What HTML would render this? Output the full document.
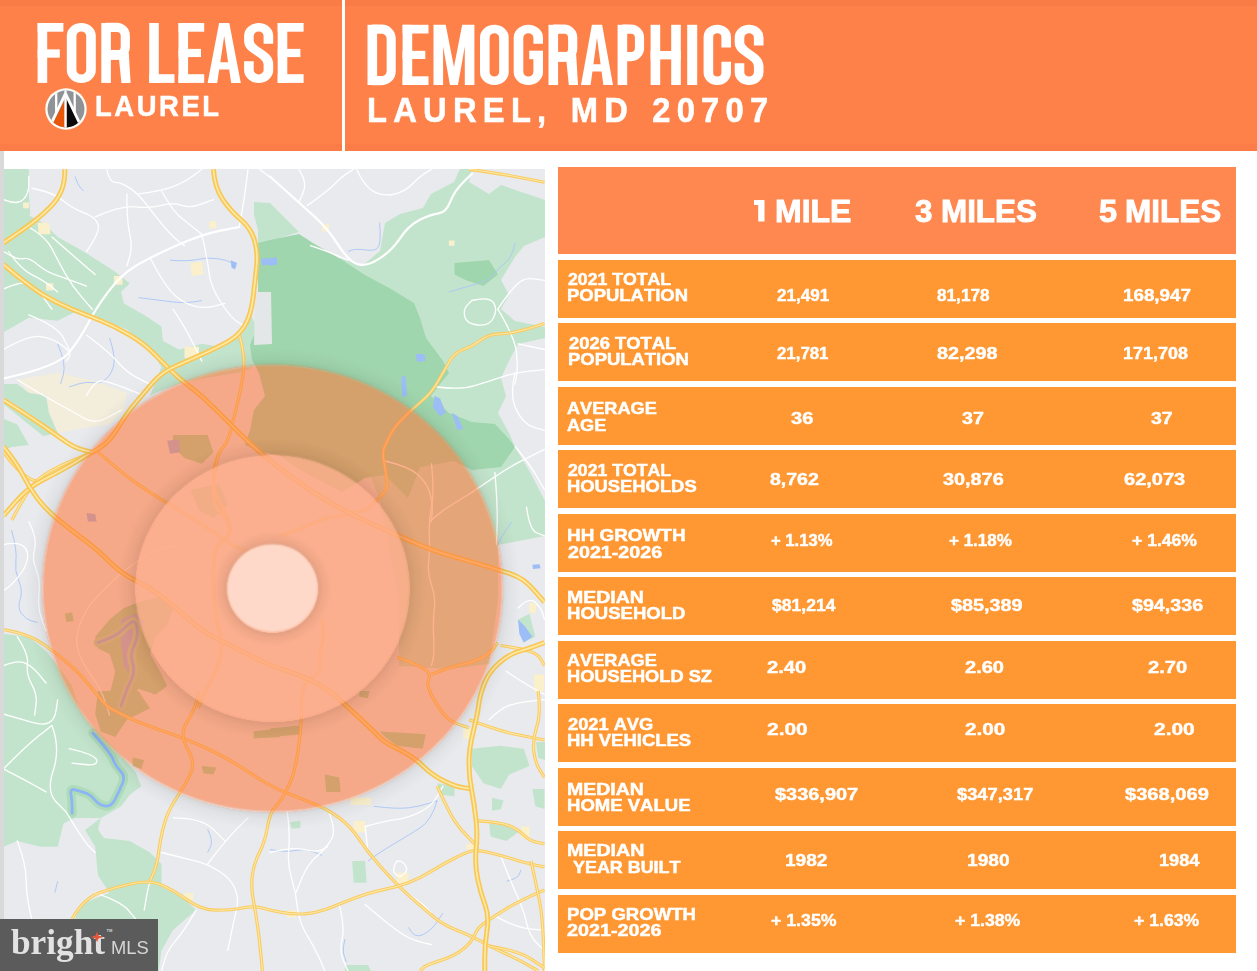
<!DOCTYPE html>
<html><head><meta charset="utf-8"><title>Demographics</title>
<style>
html,body{margin:0;padding:0}
body{width:1257px;height:971px;position:relative;overflow:hidden;background:#fff;font-family:"Liberation Sans",sans-serif}
.banner{position:absolute;left:0;top:0;width:1257px;height:150.8px;background:#ff814a}
.btop{position:absolute;left:0;top:0;width:1257px;height:6px;background:#f97b45}
.bbot{position:absolute;left:0;top:144.4px;width:1257px;height:6.4px;background:#fb7c47}
.divider{position:absolute;left:342px;top:0;width:3.4px;height:150.8px;background:#fff}
.lstripe{position:absolute;left:0;top:150.6px;width:4px;height:830px;background:#d9d9d9}
.map{position:absolute;left:0;top:0}
.hd{position:absolute;background:#ff8750}
.rw{position:absolute;background:#ff9833}
.t{position:absolute;white-space:nowrap;line-height:1;transform-origin:0 0;font-weight:700;color:#fff;font-kerning:none}
.big{-webkit-text-stroke:2.2px #fff}
.logo{position:absolute}
.wm{position:absolute;left:0;top:918.7px;width:158px;height:53px;background:#5a5b5a}
</style></head><body>
<div class="banner"></div><div class="btop"></div><div class="bbot"></div><div class="divider"></div><div class="lstripe"></div>
<svg class="map" width="1257" height="971" viewBox="0 0 1257 971">
<defs><clipPath id="mc"><rect x="4" y="169" width="541" height="802"/></clipPath><filter id="sh" x="-20%" y="-20%" width="140%" height="140%"><feGaussianBlur stdDeviation="7"/></filter><filter id="soft" x="-5%" y="-5%" width="110%" height="110%"><feGaussianBlur stdDeviation="0.9"/></filter></defs>
<g clip-path="url(#mc)">
<rect x="0" y="160" width="560" height="820" fill="#e8eaed"/>
<path d="M17.3,379.8 L57.7,372.6 L95.2,381.3 L126.9,392.8 L124.0,410.0 L109.6,424.5 L86.5,427.4 L57.7,433.0 L49.0,413.0 L46.1,395.7 L28.8,392.8Z" fill="#f3eddc"/>
<path d="M340.0,258.0 L362.0,266.0 L380.0,251.0 L385.0,223.0 L400.0,214.0 L423.0,208.0 L431.0,194.0 L454.0,182.0 L460.0,169.0 L472.0,169.0 L469.0,182.0 L489.0,194.0 L501.0,185.0 L545.0,200.0 L545.0,237.0 L524.0,246.0 L515.0,257.0 L501.0,280.0 L509.0,295.0 L501.0,309.0 L515.0,321.0 L545.0,327.0 L545.0,338.0 L518.0,344.0 L509.0,361.0 L501.0,378.0 L506.0,396.0 L498.0,413.0 L509.0,433.0 L515.0,447.0 L530.0,472.0 L545.0,501.0 L545.0,536.0 L498.0,545.0 L498.0,600.0 L489.0,664.0 L450.0,669.0 L399.0,666.0 L399.0,600.0 L380.0,500.0 L340.0,400.0Z" fill="#c3e4cc"/>
<path d="M254.0,202.0 L270.0,203.0 L299.0,232.0 L270.0,241.0 L258.0,244.0 L258.0,230.0 L254.0,215.0Z" fill="#c3e4cc"/>
<path d="M3.5,169.0 L28.8,169.0 L28.8,194.0 L30.3,214.0 L17.3,231.0 L3.5,242.0Z" fill="#c3e4cc"/>
<path d="M3.5,240.0 L17.0,231.0 L28.0,215.0 L43.3,222.7 L57.7,237.0 L83.6,251.5 L115.3,271.7 L129.8,283.2 L121.0,291.9 L124.0,303.4 L144.2,315.0 L161.5,326.5 L163.0,340.9 L178.8,349.5 L201.8,343.8 L219.0,346.7 L239.3,335.0 L250.9,315.0 L258.0,330.0 L253.7,366.9 L239.3,372.6 L201.8,378.4 L178.8,384.0 L155.7,392.8 L150.0,395.7 L161.5,366.9 L150.0,349.5 L126.9,329.4 L95.2,316.0 L75.0,312.0 L57.7,320.7 L28.8,317.8 L3.5,332.2Z" fill="#c3e4cc"/>
<path d="M3.5,384.0 L17.3,384.0 L28.8,392.8 L46.1,395.7 L49.0,413.0 L57.7,433.0 L43.3,436.0 L28.8,424.5 L3.5,404.0Z" fill="#c3e4cc"/>
<path d="M3.5,418.8 L17.3,424.5 L28.8,445.0 L12.0,447.0 L3.5,450.0Z" fill="#c3e4cc"/>
<path d="M3.5,634.0 L28.8,636.8 L46.1,651.3 L57.7,665.7 L72.1,685.9 L77.9,705.0 L86.5,719.8 L115.3,748.7 L135.5,771.7 L141.3,786.2 L129.8,794.8 L121.1,806.3 L100.9,817.9 L75.0,817.9 L63.4,823.6 L57.7,846.7 L40.4,846.7 L17.3,841.0 L3.5,846.7Z" fill="#c3e4cc"/>
<path d="M100.9,817.9 L98.0,829.4 L103.8,838.0 L129.8,841.0 L150.0,852.5 L161.5,864.0 L161.5,887.0 L184.5,898.6 L196.0,910.0 L173.0,930.0 L161.5,950.5 L158.6,971.0 L75.0,971.0 L75.0,918.8 L80.7,904.4 L95.2,898.6 L109.6,892.8 L98.0,875.5 L95.2,846.7 L85.0,830.0Z" fill="#c3e4cc"/>
<path d="M471.9,748.7 L500.7,745.8 L523.8,748.7 L529.5,766.0 L509.3,774.6 L500.7,789.0 L483.4,783.3 L471.9,766.0Z" fill="#c3e4cc"/>
<path d="M492.0,797.7 L503.6,800.6 L500.7,809.2 L492.0,810.7Z" fill="#c3e4cc"/>
<path d="M489.2,823.6 L512.2,826.5 L518.0,832.3 L506.4,841.0 L490.6,836.6Z" fill="#c3e4cc"/>
<path d="M532.4,789.0 L544.5,789.0 L544.5,809.0 L535.3,806.3Z" fill="#c3e4cc"/>
<path d="M352.2,861.0 L365.2,861.0 L366.6,882.8 L353.6,882.8Z" fill="#c3e4cc"/>
<path d="M290.2,822.2 L300.3,820.8 L300.3,828.0 L291.6,828.8Z" fill="#c3e4cc"/>
<path d="M437.2,783.3 L454.5,786.2 L454.5,796.2 L440.1,794.8Z" fill="#c3e4cc"/>
<path d="M345.0,965.0 L368.0,965.0 L371.0,971.0 L345.0,971.0Z" fill="#c3e4cc"/>
<path d="M518.0,619.5 L529.5,613.8 L535.3,636.8 L523.7,642.6Z" fill="#c3e4cc"/>
<path d="M536.0,742.0 L545.0,742.0 L545.0,760.0 L538.0,758.0Z" fill="#c3e4cc"/>
<path d="M258.0,243.0 L270.0,240.0 L299.0,234.0 L313.0,243.0 L342.0,260.0 L365.0,275.0 L391.0,289.0 L414.0,303.0 L420.0,318.0 L426.0,338.0 L443.0,361.0 L449.0,373.0 L440.0,384.0 L431.0,396.0 L449.0,413.0 L472.0,422.0 L495.0,424.0 L509.0,439.0 L515.0,447.0 L501.0,467.0 L472.0,470.0 L454.0,461.0 L420.0,467.0 L408.0,498.0 L385.0,475.0 L365.0,478.0 L342.0,492.0 L300.0,470.0 L280.0,456.0 L262.0,452.0 L245.0,445.0 L250.0,430.0 L254.0,410.0 L265.0,396.0 L259.0,373.0 L252.0,360.0 L250.0,345.0 L256.0,330.0 L258.0,300.0Z" fill="#a0d6ad"/>
<path d="M454.5,263.0 L489.0,260.0 L498.0,274.6 L483.4,286.0 L466.0,280.3 L454.5,274.6Z" fill="#a0d6ad"/>
<path d="M95.2,636.8 L109.6,619.5 L124.0,608.0 L138.4,602.2 L161.5,596.5 L173.0,608.0 L167.2,625.3 L155.7,636.8 L149.9,654.1 L161.5,674.3 L167.2,685.9 L155.7,694.5 L138.4,688.7 L126.9,703.2 L115.3,708.9 L109.6,694.5 L115.3,671.4 L109.6,654.1 L98.0,648.4Z" fill="#a0d6ad"/>
<path d="M98.0,691.0 L138.4,691.0 L149.9,708.3 L126.9,719.8 L115.3,737.1 L100.9,731.4 L95.2,714.1Z" fill="#a0d6ad"/>
<path d="M132.6,757.3 L144.2,760.2 L141.3,768.9 L132.6,766.0Z" fill="#a0d6ad"/>
<path d="M173.0,435.0 L207.6,435.0 L213.4,452.3 L201.8,463.8 L184.5,458.1 L173.0,446.5Z" fill="#a0d6ad"/>
<path d="M190.3,489.8 L219.1,484.0 L227.8,504.2 L213.4,518.6 L199.0,510.0Z" fill="#a0d6ad"/>
<path d="M64.9,613.8 L72.1,612.3 L73.5,621.0 L66.3,621.9Z" fill="#a0d6ad"/>
<path d="M270.0,728.5 L298.8,725.6 L301.7,734.3 L270.0,737.1Z" fill="#a0d6ad"/>
<path d="M379.6,731.4 L425.7,734.3 L422.8,748.7 L396.9,745.8 L385.3,737.1Z" fill="#a0d6ad"/>
<path d="M324.8,774.6 L339.2,777.5 L340.6,791.9 L326.2,791.9Z" fill="#a0d6ad"/>
<path d="M359.4,691.0 L369.5,691.0 L368.0,698.2 L359.4,696.8Z" fill="#a0d6ad"/>
<path d="M253.7,731.4 L280.0,728.5 L280.0,737.1 L253.7,738.6Z" fill="#a0d6ad"/>
<path d="M201.8,766.0 L216.3,767.4 L213.4,774.6 L203.3,773.2Z" fill="#a0d6ad"/>
<path d="M167.2,440.8 L178.8,439.3 L180.2,452.3 L170.1,453.7Z" fill="#9fb8f5"/>
<path d="M86.5,512.9 L95.2,514.3 L96.6,521.5 L87.9,521.5Z" fill="#9fb8f5"/>
<path d="M121.1,619.5 L135.5,613.8 L144.2,622.4 L135.5,636.8 L129.8,654.1 L138.4,671.4 L132.6,680.1 L124.0,665.7 L121.1,642.6Z" fill="#9fb8f5"/>
<path d="M255.0,292.0 L271.0,292.0 L272.0,344.0 L254.0,345.0Z" fill="#e3e7e8"/>
<path d="M92.7,733.0 Q111.2,753.6 113.2,759.8 Q115.3,765.9 120.4,771.0 Q125.6,776.2 122.5,783.4 Q119.5,790.6 115.3,798.9 Q111.2,807.1 105.1,806.0 Q98.9,805.0 94.8,799.9 Q90.6,794.7 84.4,792.7 Q78.3,790.6 74.2,789.6 Q70.0,788.6 71.0,794.8 Q72.1,800.9 72.1,807.1 L72.1,813.3" fill="none" stroke="#aedbb9" stroke-width="9" stroke-linecap="round" stroke-linejoin="round"/>
<path d="M98.0,642.6 Q115.3,636.8 121.1,631.1 Q126.9,625.3 131.2,622.4 Q135.5,619.5 137.0,628.2 Q138.4,636.8 134.1,645.5 Q129.8,654.1 132.6,662.8 Q135.5,671.4 131.2,680.1 Q126.9,688.7 124.0,697.4 L121.1,706.0" fill="none" stroke="#aedbb9" stroke-width="9" stroke-linecap="round" stroke-linejoin="round"/>
<path d="M92.7,733.0 Q111.2,753.6 113.2,759.8 Q115.3,765.9 120.4,771.0 Q125.6,776.2 122.5,783.4 Q119.5,790.6 115.3,798.9 Q111.2,807.1 105.1,806.0 Q98.9,805.0 94.8,799.9 Q90.6,794.7 84.4,792.7 Q78.3,790.6 74.2,789.6 Q70.0,788.6 71.0,794.8 Q72.1,800.9 72.1,807.1 L72.1,813.3" fill="none" stroke="#8db5f6" stroke-width="2.8" stroke-linecap="round"/>
<path d="M98.0,642.6 Q115.3,636.8 121.1,631.1 Q126.9,625.3 131.2,622.4 Q135.5,619.5 137.0,628.2 Q138.4,636.8 134.1,645.5 Q129.8,654.1 132.6,662.8 Q135.5,671.4 131.2,680.1 Q126.9,688.7 124.0,697.4 L121.1,706.0" fill="none" stroke="#8db5f6" stroke-width="2.8" stroke-linecap="round"/>
<path d="M190.3,263.0 L201.8,261.6 L203.3,274.6 L191.8,276.0Z" fill="#fbf0cc"/>
<path d="M37.5,222.7 L49.0,222.7 L50.5,234.2 L38.9,234.2Z" fill="#fbf0cc"/>
<path d="M46.1,283.2 L53.3,283.2 L53.3,290.4 L46.1,290.4Z" fill="#fbf0cc"/>
<path d="M184.5,346.7 L199.0,346.7 L199.0,358.2 L184.5,358.2Z" fill="#fbf0cc"/>
<path d="M113.9,276.0 L122.5,276.0 L122.5,284.7 L113.9,284.7Z" fill="#fbf0cc"/>
<path d="M23.1,202.5 L28.8,202.5 L28.8,208.3 L23.1,208.3Z" fill="#fbf0cc"/>
<path d="M209.1,221.2 L216.3,221.2 L216.3,228.4 L209.1,228.4Z" fill="#fbf0cc"/>
<path d="M321.9,224.1 L329.1,224.1 L329.1,231.3 L321.9,231.3Z" fill="#fbf0cc"/>
<path d="M448.8,240.5 L454.5,240.5 L454.5,245.7 L448.8,245.7Z" fill="#fbf0cc"/>
<path d="M350.7,797.7 L370.9,797.7 L370.9,804.9 L350.7,804.9Z" fill="#fbf0cc"/>
<path d="M353.6,820.8 L365.2,820.8 L365.2,832.3 L353.6,832.3Z" fill="#fbf0cc"/>
<path d="M396.9,872.7 L408.4,872.7 L408.4,882.8 L396.9,882.8Z" fill="#fbf0cc"/>
<path d="M463.2,728.5 L474.7,728.5 L474.7,738.6 L463.2,738.6Z" fill="#fbf0cc"/>
<path d="M520.9,826.5 L529.5,826.5 L529.5,838.1 L520.9,838.1Z" fill="#fbf0cc"/>
<path d="M466.1,843.8 L474.7,843.8 L474.7,849.6 L466.1,849.6Z" fill="#fbf0cc"/>
<path d="M287.3,910.1 L296.0,910.1 L296.0,917.4 L287.3,917.4Z" fill="#fbf0cc"/>
<path d="M184.5,892.8 L193.2,892.8 L193.2,900.1 L184.5,900.1Z" fill="#fbf0cc"/>
<path d="M529.5,602.2 L536.7,603.7 L535.3,613.8 L528.9,612.3Z" fill="#fbf0cc"/>
<path d="M533.8,674.3 L543.9,674.3 L543.9,691.6 L533.8,691.6Z" fill="#fbf0cc"/>
<path d="M230.7,260.2 L237.0,263.0 L235.0,269.4 L231.5,267.4Z" fill="#9cbdf6"/>
<path d="M261.0,258.7 L276.8,257.8 L277.4,264.5 L261.8,265.3Z" fill="#9cbdf6"/>
<path d="M270.0,258.7 L275.8,257.3 L276.3,264.5 L270.0,265.9Z" fill="#9cbdf6"/>
<path d="M415.6,353.9 L424.3,353.9 L425.7,361.1 L417.1,361.7Z" fill="#9cbdf6"/>
<path d="M401.2,376.9 L405.5,376.1 L407.0,395.7 L402.1,397.1Z" fill="#9cbdf6"/>
<path d="M434.4,395.7 L440.1,398.6 L445.9,413.0 L440.1,415.9 L432.9,407.2Z" fill="#9cbdf6"/>
<path d="M451.7,413.0 L457.4,415.9 L463.2,428.8 L457.4,430.3Z" fill="#9cbdf6"/>
<path d="M518.0,619.5 L525.2,626.8 L532.4,636.8 L523.7,642.6 L519.4,634.0Z" fill="#9cbdf6"/>
<path d="M532.4,564.8 L539.6,564.2 L540.5,568.2 L533.0,569.1Z" fill="#9cbdf6"/>
<path d="M170.1,260.2 Q187.4,261.6 197.5,259.4 Q207.6,257.3 217.7,258.7 Q227.8,260.2 232.1,263.0 L236.4,265.9" fill="none" stroke="#a9c5f7" stroke-width="0.9"/>
<path d="M138.4,297.6 Q161.5,300.5 173.0,302.0 Q184.5,303.4 193.2,302.0 L201.8,300.5" fill="none" stroke="#a9c5f7" stroke-width="0.9"/>
<path d="M109.6,338.0 Q115.3,355.3 113.9,364.0 Q112.5,372.6 106.7,378.4 Q100.9,384.1 93.7,382.7 Q86.5,381.3 77.9,384.1 L69.2,387.0" fill="none" stroke="#a9c5f7" stroke-width="0.9"/>
<path d="M75.0,176.5 Q77.9,185.2 80.7,188.1 L83.6,191.0" fill="none" stroke="#a9c5f7" stroke-width="0.9"/>
<path d="M57.7,343.8 Q66.3,364.0 63.4,374.1 L60.6,384.1" fill="none" stroke="#a9c5f7" stroke-width="0.9"/>
<path d="M11.5,530.2 Q17.3,550.3 15.9,560.4 Q14.4,570.5 18.7,580.6 Q23.1,590.7 20.2,599.4 Q17.3,608.0 21.6,613.8 Q26.0,619.5 31.7,621.0 L37.5,622.4" fill="none" stroke="#a9c5f7" stroke-width="0.9"/>
<path d="M373.8,806.3 Q396.9,809.2 408.4,807.8 Q419.9,806.3 428.6,803.5 L437.2,800.6" fill="none" stroke="#a9c5f7" stroke-width="0.9"/>
<path d="M437.2,800.6 Q431.5,820.8 419.9,828.0 Q408.4,835.2 401.2,839.5 Q394.0,843.8 386.8,848.2 Q379.6,852.5 373.8,856.8 L368.0,861.1" fill="none" stroke="#a9c5f7" stroke-width="0.9"/>
<path d="M270.0,849.6 Q287.3,852.5 296.0,850.3 Q304.6,848.2 313.3,851.8 L321.9,855.4" fill="none" stroke="#a9c5f7" stroke-width="0.9"/>
<path d="M345.0,939.0 Q342.1,950.5 344.3,956.3 L346.4,962.0" fill="none" stroke="#a9c5f7" stroke-width="0.9"/>
<path d="M408.4,927.4 Q414.2,939.0 422.8,934.7 Q431.5,930.3 437.2,921.7 L443.0,913.0" fill="none" stroke="#a9c5f7" stroke-width="0.9"/>
<path d="M506.4,881.3 Q518.0,878.4 519.4,874.1 L520.9,869.8" fill="none" stroke="#a9c5f7" stroke-width="0.9"/>
<path d="M207.6,829.4 Q213.4,840.9 210.5,846.7 L207.6,852.5" fill="none" stroke="#a9c5f7" stroke-width="0.9"/>
<path d="M57.7,881.3 L54.8,892.8" fill="none" stroke="#a9c5f7" stroke-width="0.9"/>
<path d="M379.6,222.7 Q381.0,240.0 378.9,245.7 Q376.7,251.5 366.6,250.1 Q356.5,248.6 352.2,250.1 L347.9,251.5" fill="none" stroke="#a9c5f7" stroke-width="0.9"/>
<path d="M515.1,242.9 Q512.2,257.3 505.0,263.0 Q497.8,268.8 493.5,274.6 Q489.1,280.3 479.1,283.2 Q469.0,286.1 458.9,289.0 L448.8,291.9" fill="none" stroke="#a9c5f7" stroke-width="0.9"/>
<path d="M512.2,521.5 Q503.6,533.0 500.7,538.8 L497.8,544.6" fill="none" stroke="#a9c5f7" stroke-width="0.9"/>
<path d="M3.5,378.4 Q57.7,366.9 69.2,352.4 Q80.7,338.0 88.0,323.6 Q95.2,309.2 108.2,291.9 Q121.1,274.6 135.6,266.0 Q150.0,257.3 175.9,245.8 Q201.8,234.2 220.6,230.6 L239.3,227.0" fill="none" stroke="#ffffff" stroke-width="2.2" stroke-linecap="round"/>
<path d="M270.0,176.5 Q298.8,202.5 313.2,215.4 Q327.7,228.4 337.8,244.3 Q347.9,260.2 356.5,263.8 Q365.2,267.4 378.1,259.4 Q391.1,251.5 399.8,238.6 Q408.4,225.6 419.9,219.8 Q431.5,214.0 438.7,213.3 Q445.9,212.6 450.2,201.8 Q454.5,191.0 463.2,182.3 L471.9,173.7" fill="none" stroke="#ffffff" stroke-width="2.2" stroke-linecap="round"/>
<path d="M106.7,169.3 Q109.6,182.3 115.3,182.3 Q121.1,182.3 129.8,188.1 Q138.4,193.8 147.1,205.4 Q155.7,216.9 164.4,227.0 Q173.0,237.1 178.8,241.4 L184.5,245.7" fill="none" stroke="#ffffff" stroke-width="1.3" stroke-linecap="round"/>
<path d="M95.2,216.9 Q121.1,205.4 135.5,206.8 Q149.9,208.3 161.5,205.4 Q173.0,202.5 181.7,205.4 Q190.3,208.3 201.8,203.9 L213.4,199.6" fill="none" stroke="#ffffff" stroke-width="1.3" stroke-linecap="round"/>
<path d="M86.5,251.5 Q100.9,231.3 98.0,224.1 Q95.2,216.9 83.6,212.6 Q72.1,208.3 63.4,201.0 Q54.8,193.8 43.3,191.0 L31.7,188.1" fill="none" stroke="#ffffff" stroke-width="1.3" stroke-linecap="round"/>
<path d="M126.9,193.8 Q126.9,222.7 129.8,234.2 Q132.6,245.7 129.8,255.8 L126.9,265.9" fill="none" stroke="#ffffff" stroke-width="1.3" stroke-linecap="round"/>
<path d="M201.8,234.2 Q207.6,260.2 209.1,273.1 Q210.5,286.1 220.6,302.0 Q230.7,317.8 237.9,322.2 L245.1,326.5" fill="none" stroke="#ffffff" stroke-width="1.3" stroke-linecap="round"/>
<path d="M161.5,191.0 Q173.0,211.1 180.2,216.9 Q187.4,222.7 194.6,228.4 L201.8,234.2" fill="none" stroke="#ffffff" stroke-width="1.3" stroke-linecap="round"/>
<path d="M3.5,349.5 Q28.8,335.1 40.4,336.6 Q51.9,338.0 62.0,345.2 Q72.1,352.4 69.2,356.8 L66.3,361.1" fill="none" stroke="#ffffff" stroke-width="1.3" stroke-linecap="round"/>
<path d="M86.5,335.1 Q109.6,352.4 118.2,362.5 Q126.9,372.6 138.4,378.4 L149.9,384.1" fill="none" stroke="#ffffff" stroke-width="1.3" stroke-linecap="round"/>
<path d="M3.5,289.0 Q23.1,280.3 30.3,284.7 Q37.5,289.0 44.7,299.1 L51.9,309.2" fill="none" stroke="#ffffff" stroke-width="1.3" stroke-linecap="round"/>
<path d="M28.8,227.0 Q46.1,237.1 51.9,248.6 Q57.7,260.2 64.9,273.1 Q72.1,286.1 82.2,297.6 L92.3,309.2" fill="none" stroke="#ffffff" stroke-width="1.3" stroke-linecap="round"/>
<path d="M173.0,309.2 Q184.5,326.5 190.3,338.0 Q196.1,349.5 199.0,355.3 L201.8,361.1" fill="none" stroke="#ffffff" stroke-width="1.3" stroke-linecap="round"/>
<path d="M248.0,169.3 Q245.1,193.8 242.2,210.4 L239.3,227.0" fill="none" stroke="#ffffff" stroke-width="1.3" stroke-linecap="round"/>
<path d="M259.5,169.3 L276.8,182.3" fill="none" stroke="#ffffff" stroke-width="1.3" stroke-linecap="round"/>
<path d="M28.8,314.9 Q57.7,326.5 63.4,338.0 L69.2,349.5" fill="none" stroke="#ffffff" stroke-width="1.3" stroke-linecap="round"/>
<path d="M17.3,379.8 Q43.3,395.7 59.1,404.3 Q75.0,413.0 85.1,418.7 Q95.2,424.5 108.1,417.3 L121.1,410.1" fill="none" stroke="#ffffff" stroke-width="1.3" stroke-linecap="round"/>
<path d="M3.5,251.5 Q17.3,260.2 23.1,258.7 Q28.8,257.3 37.5,264.5 Q46.1,271.7 54.8,274.6 Q63.4,277.5 75.0,281.8 L86.5,286.1" fill="none" stroke="#ffffff" stroke-width="1.3" stroke-linecap="round"/>
<path d="M51.9,237.1 Q75.0,257.3 85.1,265.9 L95.2,274.6" fill="none" stroke="#ffffff" stroke-width="1.3" stroke-linecap="round"/>
<path d="M86.5,395.7 Q95.2,378.4 105.2,381.3 Q115.3,384.1 129.8,389.9 L144.2,395.7" fill="none" stroke="#ffffff" stroke-width="1.3" stroke-linecap="round"/>
<path d="M149.9,257.3 Q161.5,280.3 170.1,290.4 Q178.8,300.5 190.3,304.9 Q201.8,309.2 213.4,306.3 L224.9,303.4" fill="none" stroke="#ffffff" stroke-width="1.3" stroke-linecap="round"/>
<path d="M138.4,193.8 Q161.5,191.0 173.0,186.6 Q184.5,182.3 193.2,175.8 L201.8,169.3" fill="none" stroke="#ffffff" stroke-width="1.3" stroke-linecap="round"/>
<path d="M3.5,199.6 Q17.3,205.4 23.1,199.6 Q28.8,193.8 28.8,185.2 L28.8,176.5" fill="none" stroke="#ffffff" stroke-width="1.3" stroke-linecap="round"/>
<path d="M8.7,251.5 Q20.2,268.8 31.7,274.6 Q43.3,280.3 50.5,286.1 L57.7,291.9" fill="none" stroke="#ffffff" stroke-width="1.3" stroke-linecap="round"/>
<path d="M307.5,205.4 Q327.7,191.0 334.9,183.7 Q342.1,176.5 347.9,172.9 L353.6,169.3" fill="none" stroke="#ffffff" stroke-width="1.3" stroke-linecap="round"/>
<path d="M298.8,169.3 Q307.5,182.3 303.2,192.4 L298.8,202.5" fill="none" stroke="#ffffff" stroke-width="1.3" stroke-linecap="round"/>
<path d="M497.8,309.2 Q509.3,291.9 516.5,284.7 Q523.7,277.5 534.1,278.9 L544.5,280.3" fill="none" stroke="#ffffff" stroke-width="1.3" stroke-linecap="round"/>
<path d="M497.8,309.2 Q515.1,338.0 516.5,352.4 Q518.0,366.8 516.5,375.5 L515.1,384.1" fill="none" stroke="#ffffff" stroke-width="1.3" stroke-linecap="round"/>
<path d="M437.2,387.0 Q460.3,389.9 474.7,385.6 Q489.1,381.3 502.1,376.9 Q515.1,372.6 529.8,371.2 L544.5,369.7" fill="none" stroke="#ffffff" stroke-width="1.3" stroke-linecap="round"/>
<path d="M515.1,372.6 Q509.3,395.7 516.5,410.1 Q523.7,424.5 534.1,427.4 L544.5,430.3" fill="none" stroke="#ffffff" stroke-width="1.3" stroke-linecap="round"/>
<path d="M518.0,343.8 L544.5,349.5" fill="none" stroke="#ffffff" stroke-width="1.3" stroke-linecap="round"/>
<path d="M471.8,300.5 Q489.1,296.2 493.5,302.7 Q497.8,309.2 493.5,317.8 Q489.1,326.5 477.6,325.0 Q466.1,323.6 464.6,316.4 Q463.2,309.2 467.5,304.9 L471.8,300.5" fill="none" stroke="#ffffff" stroke-width="1.3" stroke-linecap="round"/>
<path d="M356.5,169.3 Q365.2,188.1 375.2,192.4 Q385.3,196.7 395.4,193.8 Q405.5,191.0 412.7,183.7 Q419.9,176.5 425.7,172.9 L431.5,169.3" fill="none" stroke="#ffffff" stroke-width="1.3" stroke-linecap="round"/>
<path d="M310.4,245.7 Q327.7,251.5 337.8,255.8 L347.9,260.2" fill="none" stroke="#ffffff" stroke-width="1.3" stroke-linecap="round"/>
<path d="M544.5,449.4 Q520.9,461.0 510.8,466.7 Q500.7,472.5 486.3,482.6 Q471.8,492.7 457.4,501.3 Q443.0,510.0 436.5,515.7 L430.0,521.5" fill="none" stroke="#ffffff" stroke-width="1.3" stroke-linecap="round"/>
<path d="M494.9,472.5 Q497.8,507.1 497.1,525.8 L496.4,544.6" fill="none" stroke="#ffffff" stroke-width="1.3" stroke-linecap="round"/>
<path d="M515.1,446.5 Q529.5,463.8 537.0,476.8 L544.5,489.8" fill="none" stroke="#ffffff" stroke-width="1.3" stroke-linecap="round"/>
<path d="M526.6,507.1 Q529.5,530.2 537.0,533.0 L544.5,535.9" fill="none" stroke="#ffffff" stroke-width="1.3" stroke-linecap="round"/>
<path d="M431.5,463.8 Q434.4,492.7 431.5,507.1 Q428.6,521.5 429.3,535.9 Q430.0,550.3 428.6,561.9 Q427.2,573.4 431.5,584.9 Q435.8,596.5 434.4,608.0 Q432.9,619.5 433.6,636.8 Q434.4,654.1 432.9,659.9 L431.5,665.7" fill="none" stroke="#ffffff" stroke-width="1.3" stroke-linecap="round"/>
<path d="M385.3,461.0 Q408.4,466.7 417.1,473.9 Q425.7,481.1 429.3,491.2 Q432.9,501.3 432.2,511.4 L431.5,521.5" fill="none" stroke="#ffffff" stroke-width="1.3" stroke-linecap="round"/>
<path d="M518.0,608.0 Q529.5,596.5 535.3,602.2 Q541.0,608.0 542.8,613.8 L544.5,619.5" fill="none" stroke="#ffffff" stroke-width="1.3" stroke-linecap="round"/>
<path d="M506.4,671.4 Q523.7,683.0 534.1,688.7 L544.5,694.5" fill="none" stroke="#ffffff" stroke-width="1.3" stroke-linecap="round"/>
<path d="M3.5,544.6 Q17.3,541.7 23.1,546.0 Q28.8,550.3 27.4,559.0 Q26.0,567.6 18.7,576.3 Q11.5,584.9 7.5,587.8 L3.5,590.7" fill="none" stroke="#ffffff" stroke-width="1.3" stroke-linecap="round"/>
<path d="M28.8,521.5 Q37.5,538.8 34.6,548.9 Q31.7,559.0 36.0,569.1 Q40.4,579.2 38.9,593.6 Q37.5,608.0 41.8,619.5 L46.1,631.1" fill="none" stroke="#ffffff" stroke-width="1.3" stroke-linecap="round"/>
<path d="M121.1,573.4 Q95.2,596.5 87.9,608.0 Q80.7,619.5 77.9,631.1 Q75.0,642.6 79.3,654.1 Q83.6,665.7 92.3,677.2 Q100.9,688.7 105.2,701.9 L109.6,715.0" fill="none" stroke="#ffffff" stroke-width="1.3" stroke-linecap="round"/>
<path d="M121.1,573.4 Q135.5,561.9 145.6,556.1 Q155.7,550.3 167.2,547.5 L178.8,544.6" fill="none" stroke="#ffffff" stroke-width="1.3" stroke-linecap="round"/>
<path d="M17.3,636.8 Q28.8,654.1 27.4,664.2 Q26.0,674.3 31.7,684.4 Q37.5,694.5 36.0,704.8 L34.6,715.0" fill="none" stroke="#ffffff" stroke-width="1.3" stroke-linecap="round"/>
<path d="M3.5,665.7 Q17.3,659.9 24.5,662.8 Q31.7,665.7 38.9,674.3 L46.1,683.0" fill="none" stroke="#ffffff" stroke-width="1.3" stroke-linecap="round"/>
<path d="M3.5,714.1 Q23.1,719.8 33.2,722.7 Q43.3,725.6 49.0,722.7 Q54.8,719.8 56.2,709.7 L57.7,699.7" fill="none" stroke="#ffffff" stroke-width="1.3" stroke-linecap="round"/>
<path d="M51.9,725.6 Q60.6,748.7 53.3,770.3 Q46.1,791.9 56.2,802.0 L66.3,812.1" fill="none" stroke="#ffffff" stroke-width="1.3" stroke-linecap="round"/>
<path d="M3.5,768.9 Q26.0,745.8 38.9,735.7 L51.9,725.6" fill="none" stroke="#ffffff" stroke-width="1.3" stroke-linecap="round"/>
<path d="M3.5,768.9 Q26.0,780.4 36.0,786.2 L46.1,791.9" fill="none" stroke="#ffffff" stroke-width="1.3" stroke-linecap="round"/>
<path d="M17.3,840.9 Q26.0,864.0 26.0,878.4 Q26.0,892.8 28.8,905.8 L31.7,918.8" fill="none" stroke="#ffffff" stroke-width="1.3" stroke-linecap="round"/>
<path d="M66.3,812.1 Q83.6,840.9 89.4,846.7 L95.2,852.5" fill="none" stroke="#ffffff" stroke-width="1.3" stroke-linecap="round"/>
<path d="M144.2,910.1 Q147.1,892.8 148.5,887.1 L149.9,881.3" fill="none" stroke="#ffffff" stroke-width="1.3" stroke-linecap="round"/>
<path d="M161.5,852.5 Q184.5,858.2 196.1,861.1 Q207.6,864.0 219.1,871.2 Q230.7,878.4 235.0,888.5 Q239.3,898.6 236.4,910.1 Q233.6,921.7 230.7,936.1 L227.8,950.5" fill="none" stroke="#ffffff" stroke-width="1.3" stroke-linecap="round"/>
<path d="M207.6,864.0 Q224.9,840.9 236.4,829.4 L248.0,817.9" fill="none" stroke="#ffffff" stroke-width="1.3" stroke-linecap="round"/>
<path d="M173.0,817.9 Q201.8,817.9 213.4,829.4 L224.9,840.9" fill="none" stroke="#ffffff" stroke-width="1.3" stroke-linecap="round"/>
<path d="M196.1,910.1 Q184.5,930.3 175.9,940.4 Q167.2,950.5 164.4,960.8 L161.5,971.0" fill="none" stroke="#ffffff" stroke-width="1.3" stroke-linecap="round"/>
<path d="M95.2,892.8 Q121.1,901.5 128.3,910.1 L135.5,918.8" fill="none" stroke="#ffffff" stroke-width="1.3" stroke-linecap="round"/>
<path d="M69.2,748.7 Q95.2,754.4 96.6,760.2 Q98.0,766.0 85.1,764.5 L72.1,763.1" fill="none" stroke="#ffffff" stroke-width="1.3" stroke-linecap="round"/>
<path d="M287.3,812.1 Q290.2,835.2 288.7,849.6 Q287.3,864.0 291.6,878.4 Q296.0,892.8 297.4,907.3 Q298.8,921.7 307.5,936.1 Q316.1,950.5 320.5,960.8 L324.8,971.0" fill="none" stroke="#ffffff" stroke-width="1.3" stroke-linecap="round"/>
<path d="M327.7,809.2 Q336.3,829.4 332.0,838.1 Q327.7,846.7 317.6,855.4 Q307.5,864.0 301.7,878.4 L296.0,892.8" fill="none" stroke="#ffffff" stroke-width="1.3" stroke-linecap="round"/>
<path d="M365.2,826.5 Q385.3,820.8 396.9,819.3 Q408.4,817.9 419.9,812.1 Q431.5,806.3 437.2,796.2 L443.0,786.2" fill="none" stroke="#ffffff" stroke-width="1.3" stroke-linecap="round"/>
<path d="M365.2,826.5 L368.0,852.5" fill="none" stroke="#ffffff" stroke-width="1.3" stroke-linecap="round"/>
<path d="M396.9,861.1 Q391.1,869.8 395.4,874.1 Q399.8,878.4 404.1,874.1 Q408.4,869.8 405.5,865.5 Q402.6,861.1 399.8,861.1 L396.9,861.1" fill="none" stroke="#ffffff" stroke-width="1.3" stroke-linecap="round"/>
<path d="M402.6,890.0 Q419.9,901.5 425.7,907.3 L431.5,913.0" fill="none" stroke="#ffffff" stroke-width="1.3" stroke-linecap="round"/>
<path d="M494.9,915.9 Q515.1,927.4 529.8,928.9 L544.5,930.3" fill="none" stroke="#ffffff" stroke-width="1.3" stroke-linecap="round"/>
<path d="M500.7,855.4 Q509.3,878.4 516.5,894.3 Q523.7,910.1 526.6,923.1 Q529.5,936.1 537.0,943.3 L544.5,950.5" fill="none" stroke="#ffffff" stroke-width="1.3" stroke-linecap="round"/>
<path d="M365.2,904.4 Q385.3,921.7 396.9,930.3 Q408.4,939.0 419.9,941.9 L431.5,944.7" fill="none" stroke="#ffffff" stroke-width="1.3" stroke-linecap="round"/>
<path d="M270.0,852.5 Q293.1,846.7 304.6,849.6 Q316.1,852.5 321.9,849.6 L327.7,846.7" fill="none" stroke="#ffffff" stroke-width="1.3" stroke-linecap="round"/>
<path d="M339.2,904.4 Q345.0,927.4 342.1,939.0 Q339.2,950.5 343.5,960.8 L347.9,971.0" fill="none" stroke="#ffffff" stroke-width="1.3" stroke-linecap="round"/>
<path d="M489.1,719.8 Q500.7,708.3 509.3,705.4 Q518.0,702.5 531.2,701.1 L544.5,699.7" fill="none" stroke="#ffffff" stroke-width="1.3" stroke-linecap="round"/>
<path d="M239.3,335.0 Q245.0,355.3 243.6,369.6 Q242.2,384.0 237.9,401.4 Q233.6,418.8 230.7,430.3 Q227.8,441.8 223.4,447.1 Q219.0,452.3 216.2,461.0 Q213.4,469.6 213.4,481.1 Q213.4,492.7 220.6,504.2 Q227.8,515.7 229.2,524.4 L230.7,533.0" fill="none" stroke="#facb60" stroke-width="3.2" stroke-linejoin="round"/>
<path d="M239.3,335.0 Q245.0,355.3 243.6,369.6 Q242.2,384.0 237.9,401.4 Q233.6,418.8 230.7,430.3 Q227.8,441.8 223.4,447.1 Q219.0,452.3 216.2,461.0 Q213.4,469.6 213.4,481.1 Q213.4,492.7 220.6,504.2 Q227.8,515.7 229.2,524.4 L230.7,533.0" fill="none" stroke="#fde8a8" stroke-width="1.1" stroke-linejoin="round"/>
<path d="M3.5,629.6 Q28.8,634.0 43.2,644.0 Q57.7,654.1 69.2,664.2 Q80.7,674.3 92.2,688.7 Q103.8,703.1 106.7,705.7 Q109.6,708.3 124.0,715.5 Q138.4,722.7 155.7,728.5 Q173.0,734.3 187.4,740.0 Q201.8,745.8 216.2,753.0 Q230.7,760.2 250.3,773.2 Q270.0,786.2 284.4,792.0 Q298.8,797.7 313.2,803.5 Q327.7,809.2 339.2,817.9 Q350.7,826.5 359.4,839.5 Q368.0,852.5 379.6,865.5 Q391.1,878.4 398.3,885.6 Q405.5,892.8 415.6,901.5 Q425.7,910.1 434.4,917.4 Q443.0,924.6 457.4,930.4 Q471.9,936.1 480.5,941.2 Q489.2,946.2 503.6,952.7 Q518.0,959.2 528.1,965.1 L538.2,971.0" fill="none" stroke="#facb60" stroke-width="3.2" stroke-linejoin="round"/>
<path d="M3.5,629.6 Q28.8,634.0 43.2,644.0 Q57.7,654.1 69.2,664.2 Q80.7,674.3 92.2,688.7 Q103.8,703.1 106.7,705.7 Q109.6,708.3 124.0,715.5 Q138.4,722.7 155.7,728.5 Q173.0,734.3 187.4,740.0 Q201.8,745.8 216.2,753.0 Q230.7,760.2 250.3,773.2 Q270.0,786.2 284.4,792.0 Q298.8,797.7 313.2,803.5 Q327.7,809.2 339.2,817.9 Q350.7,826.5 359.4,839.5 Q368.0,852.5 379.6,865.5 Q391.1,878.4 398.3,885.6 Q405.5,892.8 415.6,901.5 Q425.7,910.1 434.4,917.4 Q443.0,924.6 457.4,930.4 Q471.9,936.1 480.5,941.2 Q489.2,946.2 503.6,952.7 Q518.0,959.2 528.1,965.1 L538.2,971.0" fill="none" stroke="#fde8a8" stroke-width="1.1" stroke-linejoin="round"/>
<path d="M199.0,691.0 Q196.0,708.3 187.4,721.3 Q178.8,734.3 187.4,748.6 Q196.0,763.0 190.2,774.6 Q184.5,786.2 175.8,799.1 Q167.2,812.0 163.6,826.5 Q160.0,841.0 158.6,852.5 Q157.2,864.0 153.6,872.6 L150.0,881.3" fill="none" stroke="#facb60" stroke-width="3.2" stroke-linejoin="round"/>
<path d="M199.0,691.0 Q196.0,708.3 187.4,721.3 Q178.8,734.3 187.4,748.6 Q196.0,763.0 190.2,774.6 Q184.5,786.2 175.8,799.1 Q167.2,812.0 163.6,826.5 Q160.0,841.0 158.6,852.5 Q157.2,864.0 153.6,872.6 L150.0,881.3" fill="none" stroke="#fde8a8" stroke-width="1.1" stroke-linejoin="round"/>
<path d="M72.1,918.8 Q83.6,898.6 99.4,892.8 Q115.3,887.0 132.7,883.5 Q150.0,879.9 161.5,885.0 Q173.0,890.0 187.4,900.1 Q201.8,910.2 216.2,910.2 Q230.7,910.2 242.2,908.0 Q253.7,905.8 261.9,908.0 Q270.0,910.2 281.5,912.4 Q293.0,914.5 304.6,913.8 Q316.1,913.0 327.6,908.7 Q339.2,904.4 353.6,898.6 Q368.0,892.8 382.4,889.9 Q396.9,887.0 408.4,882.7 Q420.0,878.4 431.5,871.2 Q443.0,864.0 454.5,858.2 Q466.0,852.5 471.8,851.0 Q477.6,849.6 489.1,852.5 Q500.7,855.4 515.1,859.7 Q529.5,864.0 537.0,865.5 L544.5,866.9" fill="none" stroke="#facb60" stroke-width="3.2" stroke-linejoin="round"/>
<path d="M72.1,918.8 Q83.6,898.6 99.4,892.8 Q115.3,887.0 132.7,883.5 Q150.0,879.9 161.5,885.0 Q173.0,890.0 187.4,900.1 Q201.8,910.2 216.2,910.2 Q230.7,910.2 242.2,908.0 Q253.7,905.8 261.9,908.0 Q270.0,910.2 281.5,912.4 Q293.0,914.5 304.6,913.8 Q316.1,913.0 327.6,908.7 Q339.2,904.4 353.6,898.6 Q368.0,892.8 382.4,889.9 Q396.9,887.0 408.4,882.7 Q420.0,878.4 431.5,871.2 Q443.0,864.0 454.5,858.2 Q466.0,852.5 471.8,851.0 Q477.6,849.6 489.1,852.5 Q500.7,855.4 515.1,859.7 Q529.5,864.0 537.0,865.5 L544.5,866.9" fill="none" stroke="#fde8a8" stroke-width="1.1" stroke-linejoin="round"/>
<path d="M321.9,619.5 Q324.8,636.8 321.9,645.5 Q319.0,654.1 320.4,662.8 Q321.9,671.4 313.2,676.7 Q304.6,682.0 302.8,691.0 Q301.0,700.0 301.4,709.9 Q301.7,719.8 300.2,734.2 Q298.8,748.7 295.9,763.1 Q293.0,777.5 287.2,789.0 Q281.5,800.6 275.8,806.4 Q270.0,812.1 267.6,826.5 Q265.3,841.0 259.5,852.5 Q253.7,864.0 252.3,875.5 Q250.9,887.0 253.1,898.6 Q255.2,910.2 257.4,924.6 Q259.5,939.0 260.9,955.0 L262.4,971.0" fill="none" stroke="#facb60" stroke-width="3.2" stroke-linejoin="round"/>
<path d="M321.9,619.5 Q324.8,636.8 321.9,645.5 Q319.0,654.1 320.4,662.8 Q321.9,671.4 313.2,676.7 Q304.6,682.0 302.8,691.0 Q301.0,700.0 301.4,709.9 Q301.7,719.8 300.2,734.2 Q298.8,748.7 295.9,763.1 Q293.0,777.5 287.2,789.0 Q281.5,800.6 275.8,806.4 Q270.0,812.1 267.6,826.5 Q265.3,841.0 259.5,852.5 Q253.7,864.0 252.3,875.5 Q250.9,887.0 253.1,898.6 Q255.2,910.2 257.4,924.6 Q259.5,939.0 260.9,955.0 L262.4,971.0" fill="none" stroke="#fde8a8" stroke-width="1.1" stroke-linejoin="round"/>
<path d="M469.0,719.8 Q500.7,731.4 515.1,734.2 Q529.5,737.1 537.0,738.5 L544.5,740.0" fill="none" stroke="#facb60" stroke-width="3.2" stroke-linejoin="round"/>
<path d="M469.0,719.8 Q500.7,731.4 515.1,734.2 Q529.5,737.1 537.0,738.5 L544.5,740.0" fill="none" stroke="#fde8a8" stroke-width="1.1" stroke-linejoin="round"/>
<path d="M437.2,786.2 Q448.8,812.1 454.6,820.8 Q460.3,829.4 469.0,838.0 L477.6,846.7" fill="none" stroke="#facb60" stroke-width="3.2" stroke-linejoin="round"/>
<path d="M437.2,786.2 Q448.8,812.1 454.6,820.8 Q460.3,829.4 469.0,838.0 L477.6,846.7" fill="none" stroke="#fde8a8" stroke-width="1.1" stroke-linejoin="round"/>
<path d="M477.6,820.8 Q500.7,822.2 509.4,825.8 Q518.0,829.4 523.8,835.2 Q529.5,841.0 537.0,842.4 L544.5,843.8" fill="none" stroke="#facb60" stroke-width="3.2" stroke-linejoin="round"/>
<path d="M477.6,820.8 Q500.7,822.2 509.4,825.8 Q518.0,829.4 523.8,835.2 Q529.5,841.0 537.0,842.4 L544.5,843.8" fill="none" stroke="#fde8a8" stroke-width="1.1" stroke-linejoin="round"/>
<path d="M544.5,890.0 Q518.0,901.5 506.5,908.7 Q495.0,915.9 486.3,921.6 Q477.6,927.4 474.8,934.6 Q471.9,941.9 463.2,949.1 Q454.5,956.3 440.1,960.6 Q425.7,965.0 422.9,968.0 L420.0,971.0" fill="none" stroke="#facb60" stroke-width="3.2" stroke-linejoin="round"/>
<path d="M544.5,890.0 Q518.0,901.5 506.5,908.7 Q495.0,915.9 486.3,921.6 Q477.6,927.4 474.8,934.6 Q471.9,941.9 463.2,949.1 Q454.5,956.3 440.1,960.6 Q425.7,965.0 422.9,968.0 L420.0,971.0" fill="none" stroke="#fde8a8" stroke-width="1.1" stroke-linejoin="round"/>
<path d="M538.2,691.0 Q541.0,714.0 536.7,727.0 Q532.4,740.0 533.8,751.5 Q535.3,763.0 539.9,770.2 L544.5,777.5" fill="none" stroke="#facb60" stroke-width="3.2" stroke-linejoin="round"/>
<path d="M538.2,691.0 Q541.0,714.0 536.7,727.0 Q532.4,740.0 533.8,751.5 Q535.3,763.0 539.9,770.2 L544.5,777.5" fill="none" stroke="#fde8a8" stroke-width="1.1" stroke-linejoin="round"/>
<path d="M531.0,861.0 Q536.7,887.0 539.6,901.5 Q542.5,916.0 543.5,943.5 L544.5,971.0" fill="none" stroke="#facb60" stroke-width="3.2" stroke-linejoin="round"/>
<path d="M531.0,861.0 Q536.7,887.0 539.6,901.5 Q542.5,916.0 543.5,943.5 L544.5,971.0" fill="none" stroke="#fde8a8" stroke-width="1.1" stroke-linejoin="round"/>
<path d="M489.2,946.2 Q518.0,950.5 531.2,959.1 L544.5,967.8" fill="none" stroke="#facb60" stroke-width="3.2" stroke-linejoin="round"/>
<path d="M489.2,946.2 Q518.0,950.5 531.2,959.1 L544.5,967.8" fill="none" stroke="#fde8a8" stroke-width="1.1" stroke-linejoin="round"/>
<path d="M544.5,323.6 Q515.0,333.7 502.1,333.7 Q489.2,333.7 480.5,340.2 Q471.9,346.7 463.2,349.5 Q454.5,352.4 448.8,362.5 Q443.0,372.6 437.2,382.7 Q431.5,392.8 421.4,401.4 Q411.3,410.0 402.6,418.7 Q394.0,427.4 389.6,436.2 Q385.3,445.0 383.9,448.6 Q382.5,452.3 383.9,461.0 Q385.3,469.6 386.8,478.3 Q388.2,487.0 383.9,492.7 Q379.6,498.4 372.4,504.2 L365.2,510.0" fill="none" stroke="#facb60" stroke-width="3.2" stroke-linejoin="round"/>
<path d="M544.5,323.6 Q515.0,333.7 502.1,333.7 Q489.2,333.7 480.5,340.2 Q471.9,346.7 463.2,349.5 Q454.5,352.4 448.8,362.5 Q443.0,372.6 437.2,382.7 Q431.5,392.8 421.4,401.4 Q411.3,410.0 402.6,418.7 Q394.0,427.4 389.6,436.2 Q385.3,445.0 383.9,448.6 Q382.5,452.3 383.9,461.0 Q385.3,469.6 386.8,478.3 Q388.2,487.0 383.9,492.7 Q379.6,498.4 372.4,504.2 L365.2,510.0" fill="none" stroke="#fde8a8" stroke-width="1.1" stroke-linejoin="round"/>
<path d="M469.0,169.3 Q500.7,173.7 522.6,178.0 L544.5,182.3" fill="none" stroke="#facb60" stroke-width="3.2" stroke-linejoin="round"/>
<path d="M469.0,169.3 Q500.7,173.7 522.6,178.0 L544.5,182.3" fill="none" stroke="#fde8a8" stroke-width="1.1" stroke-linejoin="round"/>
<path d="M500.7,645.5 Q520.9,648.4 529.5,651.2 Q538.2,654.1 541.4,659.9 L544.5,665.7" fill="none" stroke="#facb60" stroke-width="3.2" stroke-linejoin="round"/>
<path d="M500.7,645.5 Q520.9,648.4 529.5,651.2 Q538.2,654.1 541.4,659.9 L544.5,665.7" fill="none" stroke="#fde8a8" stroke-width="1.1" stroke-linejoin="round"/>
<path d="M3.5,452.0 Q28.8,487.0 43.2,479.8 L57.7,472.5" fill="none" stroke="#facb60" stroke-width="3.2" stroke-linejoin="round"/>
<path d="M3.5,452.0 Q28.8,487.0 43.2,479.8 L57.7,472.5" fill="none" stroke="#fde8a8" stroke-width="1.1" stroke-linejoin="round"/>
<path d="M12.0,520.0 Q28.8,487.0 39.4,478.5 Q50.0,470.0 71.2,461.1 L92.3,452.3" fill="none" stroke="#facb60" stroke-width="3.2" stroke-linejoin="round"/>
<path d="M12.0,520.0 Q28.8,487.0 39.4,478.5 Q50.0,470.0 71.2,461.1 L92.3,452.3" fill="none" stroke="#fde8a8" stroke-width="1.1" stroke-linejoin="round"/>
<path d="M95.2,449.4 Q121.1,472.5 135.6,482.6 Q150.0,492.7 164.4,501.4 Q178.8,510.0 190.3,517.2 Q201.8,524.4 210.4,530.2 Q219.1,536.0 224.9,540.3 Q230.7,544.6 237.8,547.5 Q245.0,550.3 262.5,559.0 L280.0,567.6" fill="none" stroke="#facb60" stroke-width="3.2" stroke-linejoin="round"/>
<path d="M95.2,449.4 Q121.1,472.5 135.6,482.6 Q150.0,492.7 164.4,501.4 Q178.8,510.0 190.3,517.2 Q201.8,524.4 210.4,530.2 Q219.1,536.0 224.9,540.3 Q230.7,544.6 237.8,547.5 Q245.0,550.3 262.5,559.0 L280.0,567.6" fill="none" stroke="#fde8a8" stroke-width="1.1" stroke-linejoin="round"/>
<path d="M219.1,452.3 Q213.4,472.5 213.4,489.8 Q213.4,507.0 220.6,512.8 Q227.8,518.6 229.2,527.3 Q230.7,536.0 223.5,540.3 Q216.3,544.6 214.9,553.2 Q213.4,561.9 213.4,579.2 Q213.4,596.5 214.9,608.0 Q216.3,619.5 219.2,631.0 Q222.0,642.6 220.6,654.2 Q219.1,665.7 213.1,676.9 Q207.0,688.0 202.5,698.0 L198.0,708.0" fill="none" stroke="#facb60" stroke-width="3.2" stroke-linejoin="round"/>
<path d="M219.1,452.3 Q213.4,472.5 213.4,489.8 Q213.4,507.0 220.6,512.8 Q227.8,518.6 229.2,527.3 Q230.7,536.0 223.5,540.3 Q216.3,544.6 214.9,553.2 Q213.4,561.9 213.4,579.2 Q213.4,596.5 214.9,608.0 Q216.3,619.5 219.2,631.0 Q222.0,642.6 220.6,654.2 Q219.1,665.7 213.1,676.9 Q207.0,688.0 202.5,698.0 L198.0,708.0" fill="none" stroke="#fde8a8" stroke-width="1.1" stroke-linejoin="round"/>
<path d="M396.9,657.0 Q419.9,665.7 425.7,670.0 Q431.5,674.3 428.6,680.1 Q425.7,685.9 434.4,700.4 Q443.0,715.0 448.8,719.2 Q454.5,723.4 461.8,725.5 L469.0,727.7" fill="none" stroke="#facb60" stroke-width="3.2" stroke-linejoin="round"/>
<path d="M396.9,657.0 Q419.9,665.7 425.7,670.0 Q431.5,674.3 428.6,680.1 Q425.7,685.9 434.4,700.4 Q443.0,715.0 448.8,719.2 Q454.5,723.4 461.8,725.5 L469.0,727.7" fill="none" stroke="#fde8a8" stroke-width="1.1" stroke-linejoin="round"/>
<path d="M431.5,674.3 Q454.5,665.7 463.2,664.2 Q471.8,662.8 480.5,658.5 Q489.1,654.1 493.5,648.4 L497.8,642.6" fill="none" stroke="#facb60" stroke-width="3.2" stroke-linejoin="round"/>
<path d="M431.5,674.3 Q454.5,665.7 463.2,664.2 Q471.8,662.8 480.5,658.5 Q489.1,654.1 493.5,648.4 L497.8,642.6" fill="none" stroke="#fde8a8" stroke-width="1.1" stroke-linejoin="round"/>
<path d="M365.2,510.0 Q342.1,515.7 332.0,517.2 Q321.9,518.6 310.4,524.4 Q298.8,530.2 288.7,533.0 L278.7,535.9" fill="none" stroke="#facb60" stroke-width="3.2" stroke-linejoin="round"/>
<path d="M365.2,510.0 Q342.1,515.7 332.0,517.2 Q321.9,518.6 310.4,524.4 Q298.8,530.2 288.7,533.0 L278.7,535.9" fill="none" stroke="#fde8a8" stroke-width="1.1" stroke-linejoin="round"/>
<path d="M64.9,169.3 Q64.9,182.3 61.3,190.9 Q57.7,199.6 50.5,206.8 Q43.3,214.0 36.0,219.8 Q28.8,225.6 16.1,234.2 L3.5,242.9" fill="none" stroke="#f9c754" stroke-width="5.0" stroke-linejoin="round"/>
<path d="M64.9,169.3 Q64.9,182.3 61.3,190.9 Q57.7,199.6 50.5,206.8 Q43.3,214.0 36.0,219.8 Q28.8,225.6 16.1,234.2 L3.5,242.9" fill="none" stroke="#fde9a6" stroke-width="1.7" stroke-linejoin="round"/>
<path d="M3.5,264.5 Q28.8,286.1 43.2,294.8 Q57.7,303.4 72.1,309.2 Q86.5,315.0 100.9,320.8 Q115.3,326.5 129.8,335.1 Q144.2,343.8 152.8,352.5 Q161.5,361.1 170.2,369.8 Q178.8,378.4 190.3,387.0 Q201.8,395.7 216.2,410.1 Q230.7,424.5 239.3,433.1 Q248.0,441.8 259.0,451.4 Q270.0,461.0 287.3,474.0 Q304.6,487.0 323.3,498.5 Q342.0,510.0 363.6,520.0 Q385.3,530.0 408.4,540.1 Q431.5,550.3 451.7,556.1 Q471.9,561.9 486.3,566.2 Q500.7,570.5 509.4,573.4 Q518.0,576.3 523.8,580.6 Q529.5,585.0 537.0,593.6 L544.5,602.2" fill="none" stroke="#f9c754" stroke-width="5.0" stroke-linejoin="round"/>
<path d="M3.5,264.5 Q28.8,286.1 43.2,294.8 Q57.7,303.4 72.1,309.2 Q86.5,315.0 100.9,320.8 Q115.3,326.5 129.8,335.1 Q144.2,343.8 152.8,352.5 Q161.5,361.1 170.2,369.8 Q178.8,378.4 190.3,387.0 Q201.8,395.7 216.2,410.1 Q230.7,424.5 239.3,433.1 Q248.0,441.8 259.0,451.4 Q270.0,461.0 287.3,474.0 Q304.6,487.0 323.3,498.5 Q342.0,510.0 363.6,520.0 Q385.3,530.0 408.4,540.1 Q431.5,550.3 451.7,556.1 Q471.9,561.9 486.3,566.2 Q500.7,570.5 509.4,573.4 Q518.0,576.3 523.8,580.6 Q529.5,585.0 537.0,593.6 L544.5,602.2" fill="none" stroke="#fde9a6" stroke-width="1.7" stroke-linejoin="round"/>
<path d="M213.4,169.3 Q214.8,188.0 222.8,199.5 Q230.7,211.0 240.8,219.7 Q250.9,228.4 254.4,239.9 Q258.0,251.5 256.6,265.9 Q255.2,280.3 253.1,297.6 Q250.9,315.0 245.1,325.0 Q239.3,335.0 229.2,340.9 Q219.1,346.7 203.2,353.9 Q187.4,361.0 174.4,366.8 Q161.5,372.6 152.8,382.7 Q144.2,392.8 135.6,402.9 Q126.9,413.0 118.2,427.4 Q109.6,441.8 100.9,447.1 Q92.3,452.3 75.0,462.4 Q57.7,472.5 43.2,479.8 Q28.8,487.0 16.1,501.4 L3.5,515.7" fill="none" stroke="#f9c754" stroke-width="5.0" stroke-linejoin="round"/>
<path d="M213.4,169.3 Q214.8,188.0 222.8,199.5 Q230.7,211.0 240.8,219.7 Q250.9,228.4 254.4,239.9 Q258.0,251.5 256.6,265.9 Q255.2,280.3 253.1,297.6 Q250.9,315.0 245.1,325.0 Q239.3,335.0 229.2,340.9 Q219.1,346.7 203.2,353.9 Q187.4,361.0 174.4,366.8 Q161.5,372.6 152.8,382.7 Q144.2,392.8 135.6,402.9 Q126.9,413.0 118.2,427.4 Q109.6,441.8 100.9,447.1 Q92.3,452.3 75.0,462.4 Q57.7,472.5 43.2,479.8 Q28.8,487.0 16.1,501.4 L3.5,515.7" fill="none" stroke="#fde9a6" stroke-width="1.7" stroke-linejoin="round"/>
<path d="M3.5,446.5 Q17.3,463.8 23.1,475.4 Q28.8,487.0 37.5,498.5 Q46.1,510.0 60.5,521.5 Q75.0,533.0 86.5,541.6 Q98.0,550.3 109.5,561.8 Q121.1,573.4 135.6,580.6 Q150.0,587.8 161.5,596.5 Q173.0,605.1 187.4,618.1 Q201.8,631.1 216.2,638.3 Q230.7,645.5 250.3,655.6 Q270.0,665.7 284.4,670.0 Q298.8,674.3 313.2,681.5 Q327.7,688.7 342.1,701.9 Q356.5,715.0 366.6,724.6 Q376.7,734.3 381.0,738.6 Q385.3,742.9 399.8,750.1 Q414.2,757.3 422.9,766.0 Q431.5,774.6 443.0,780.4 Q454.5,786.2 463.2,787.6 L471.9,789.0" fill="none" stroke="#f9c754" stroke-width="5.0" stroke-linejoin="round"/>
<path d="M3.5,446.5 Q17.3,463.8 23.1,475.4 Q28.8,487.0 37.5,498.5 Q46.1,510.0 60.5,521.5 Q75.0,533.0 86.5,541.6 Q98.0,550.3 109.5,561.8 Q121.1,573.4 135.6,580.6 Q150.0,587.8 161.5,596.5 Q173.0,605.1 187.4,618.1 Q201.8,631.1 216.2,638.3 Q230.7,645.5 250.3,655.6 Q270.0,665.7 284.4,670.0 Q298.8,674.3 313.2,681.5 Q327.7,688.7 342.1,701.9 Q356.5,715.0 366.6,724.6 Q376.7,734.3 381.0,738.6 Q385.3,742.9 399.8,750.1 Q414.2,757.3 422.9,766.0 Q431.5,774.6 443.0,780.4 Q454.5,786.2 463.2,787.6 L471.9,789.0" fill="none" stroke="#fde9a6" stroke-width="1.7" stroke-linejoin="round"/>
<path d="M3.5,400.0 Q28.8,415.9 43.2,425.9 Q57.7,436.0 66.3,442.0 Q75.0,448.0 83.7,450.1 L92.3,452.3" fill="none" stroke="#f9c754" stroke-width="5.0" stroke-linejoin="round"/>
<path d="M3.5,400.0 Q28.8,415.9 43.2,425.9 Q57.7,436.0 66.3,442.0 Q75.0,448.0 83.7,450.1 L92.3,452.3" fill="none" stroke="#fde9a6" stroke-width="1.7" stroke-linejoin="round"/>
<path d="M544.5,642.6 Q529.5,648.4 519.4,651.2 Q509.3,654.1 499.2,662.8 Q489.2,671.4 484.6,683.0 Q480.0,694.5 478.8,704.2 Q477.6,714.0 473.3,731.4 Q469.0,748.7 469.0,763.1 Q469.0,777.5 471.9,791.9 Q474.7,806.3 476.1,820.8 Q477.6,835.2 476.1,849.6 Q474.7,864.0 477.6,878.4 Q480.5,892.8 484.9,904.3 Q489.2,915.9 487.0,930.3 Q484.8,944.8 484.8,957.9 L484.8,971.0" fill="none" stroke="#f9c754" stroke-width="5.0" stroke-linejoin="round"/>
<path d="M544.5,642.6 Q529.5,648.4 519.4,651.2 Q509.3,654.1 499.2,662.8 Q489.2,671.4 484.6,683.0 Q480.0,694.5 478.8,704.2 Q477.6,714.0 473.3,731.4 Q469.0,748.7 469.0,763.1 Q469.0,777.5 471.9,791.9 Q474.7,806.3 476.1,820.8 Q477.6,835.2 476.1,849.6 Q474.7,864.0 477.6,878.4 Q480.5,892.8 484.9,904.3 Q489.2,915.9 487.0,930.3 Q484.8,944.8 484.8,957.9 L484.8,971.0" fill="none" stroke="#fde9a6" stroke-width="1.7" stroke-linejoin="round"/>
<radialGradient id="g3" cx="0" cy="0" r="248.3" gradientUnits="userSpaceOnUse"><stop offset="0.9265" stop-color="#000" stop-opacity="0"/><stop offset="0.9275" stop-color="#000" stop-opacity="0.08"/><stop offset="0.9529" stop-color="#000" stop-opacity="0.036"/><stop offset="1" stop-color="#000" stop-opacity="0"/></radialGradient><g transform="translate(272.5,588.7) scale(1,0.972)"><circle r="248.3" fill="url(#g3)"/></g>
<ellipse cx="272.5" cy="588.2" rx="230" ry="223.56" fill="rgb(255,114,52)" fill-opacity="0.55" filter="url(#soft)"/>
<radialGradient id="g2" cx="0" cy="0" r="155.3" gradientUnits="userSpaceOnUse"><stop offset="0.8831" stop-color="#000" stop-opacity="0"/><stop offset="0.8841" stop-color="#000" stop-opacity="0.09"/><stop offset="0.9247" stop-color="#000" stop-opacity="0.041"/><stop offset="1" stop-color="#000" stop-opacity="0"/></radialGradient><g transform="translate(272.5,588.7) scale(1,0.972)"><circle r="155.3" fill="url(#g2)"/></g>
<ellipse cx="272.5" cy="588.2" rx="137" ry="133.16" fill="rgb(253,178,146)" fill-opacity="0.72" filter="url(#soft)"/>
<radialGradient id="g1" cx="0" cy="0" r="59.5" gradientUnits="userSpaceOnUse"><stop offset="0.7637" stop-color="#000" stop-opacity="0"/><stop offset="0.7647" stop-color="#000" stop-opacity="0.1"/><stop offset="0.8471" stop-color="#000" stop-opacity="0.045"/><stop offset="1" stop-color="#000" stop-opacity="0"/></radialGradient><g transform="translate(272.5,588.7) scale(1,0.972)"><circle r="59.5" fill="url(#g1)"/></g>
<ellipse cx="272.5" cy="588.2" rx="45.2" ry="43.93" fill="rgb(254,222,208)" fill-opacity="0.9" filter="url(#soft)"/>
</g>
</svg>
<div class="hd" style="left:557.7px;top:167.2px;width:678.5px;height:86.8px"></div>
<div class="rw" style="left:557.7px;top:259.7px;width:678.5px;height:58.2px"></div>
<div class="rw" style="left:557.7px;top:323.2px;width:678.5px;height:58.2px"></div>
<div class="rw" style="left:557.7px;top:386.7px;width:678.5px;height:58.2px"></div>
<div class="rw" style="left:557.7px;top:450.2px;width:678.5px;height:58.2px"></div>
<div class="rw" style="left:557.7px;top:513.7px;width:678.5px;height:58.2px"></div>
<div class="rw" style="left:557.7px;top:577.2px;width:678.5px;height:58.2px"></div>
<div class="rw" style="left:557.7px;top:640.7px;width:678.5px;height:58.2px"></div>
<div class="rw" style="left:557.7px;top:704.2px;width:678.5px;height:58.2px"></div>
<div class="rw" style="left:557.7px;top:767.7px;width:678.5px;height:58.2px"></div>
<div class="rw" style="left:557.7px;top:831.2px;width:678.5px;height:58.2px"></div>
<div class="rw" style="left:557.7px;top:894.7px;width:678.5px;height:58.2px"></div>
<svg class="logo" style="left:0;top:0" width="800" height="150"><g fill="#fff"><g transform="translate(37.60,23.00)"><rect x="0.00" y="0.00" width="9.60" height="59.90"/><rect x="0.00" y="0.00" width="25.80" height="8.70"/><rect x="0.00" y="26.36" width="22.20" height="8.30"/></g><g transform="translate(66.80,23.00)"><g transform="scale(1,0.885)"><path d="M4.80,14.50 A9.70,9.70 0 0 1 24.20,14.50 L24.20,53.18 A9.70,9.70 0 0 1 4.80,53.18 Z" fill="none" stroke="#fff" stroke-width="9.6" stroke-linecap="butt" stroke-linejoin="round"/></g></g><g transform="translate(101.30,23.00)"><rect x="0.00" y="0.00" width="9.60" height="59.90"/><path d="M4.70,4.35 L15.50,4.35 A8.5,8.5 0 0 1 24.00,12.85 L24.00,23.69 A8.5,8.5 0 0 1 15.50,32.19 L4.70,32.19" fill="none" stroke="#fff" stroke-width="9.2" stroke-linecap="butt" stroke-linejoin="round"/><rect x="8.60" y="26.96" width="13.20" height="9.58"/><path d="M17.10,29.95 L27.50,29.95 L29.30,59.90 L20.10,59.90 Z"/></g><g transform="translate(149.20,23.00)"><rect x="0.00" y="0.00" width="9.60" height="59.90"/><rect x="0.00" y="51.20" width="25.30" height="8.70"/></g><g transform="translate(178.50,23.00)"><rect x="0.00" y="0.00" width="9.60" height="59.90"/><rect x="0.00" y="0.00" width="25.70" height="8.70"/><rect x="0.00" y="25.88" width="22.50" height="8.20"/><rect x="0.00" y="51.20" width="25.70" height="8.70"/></g><g transform="translate(207.60,23.00)"><path fill-rule="evenodd" d="M0,59.900000000000006 L11.50,0 L21.70,0 L33.20,59.900000000000006 L23.60,59.900000000000006 L21.59,46.42 L11.61,46.42 L9.60,59.900000000000006 Z M12.68,39.23 L20.52,39.23 L16.60,12.88 Z"/></g><g transform="translate(244.10,23.00)"><g transform="scale(1,0.885)"><path d="M24.30,23.35 L24.30,14.55 A9.75,9.75 0 0 0 4.80,14.55 L4.80,20.31 C4.80,31.81 24.30,33.84 24.30,46.70 L24.30,53.13 A9.75,9.75 0 0 1 4.80,53.13 L4.80,43.32" fill="none" stroke="#fff" stroke-width="9.6" stroke-linecap="butt" stroke-linejoin="round"/></g></g><g transform="translate(277.70,23.00)"><rect x="0.00" y="0.00" width="9.60" height="59.90"/><rect x="0.00" y="0.00" width="25.90" height="8.70"/><rect x="0.00" y="25.88" width="22.70" height="8.20"/><rect x="0.00" y="51.20" width="25.90" height="8.70"/></g></g><g fill="#fff"><g transform="translate(367.50,24.80)"><rect x="0.00" y="0.00" width="9.60" height="60.20"/><path d="M4.70,4.35 L14.20,4.35 A9.5,9.5 0 0 1 23.70,13.85 L23.70,46.35 A9.5,9.5 0 0 1 14.20,55.85 L4.70,55.85" fill="none" stroke="#fff" stroke-width="9.1" stroke-linecap="butt" stroke-linejoin="round"/></g><g transform="translate(402.60,24.80)"><rect x="0.00" y="0.00" width="9.60" height="60.20"/><rect x="0.00" y="0.00" width="25.90" height="8.70"/><rect x="0.00" y="26.01" width="22.70" height="8.20"/><rect x="0.00" y="51.50" width="25.90" height="8.70"/></g><g transform="translate(433.50,24.80)"><path d="M0,0 L12.20,0 L20.45,42.14 L28.70,0 L40.90,0 L40.90,60.2 L31.30,60.2 L31.30,21.67 L24.45,60.2 L16.45,60.2 L9.60,21.67 L9.60,60.2 L0,60.2 Z"/></g><g transform="translate(480.00,24.80)"><g transform="scale(1,0.885)"><path d="M4.80,14.35 A9.55,9.55 0 0 1 23.90,14.35 L23.90,53.67 A9.55,9.55 0 0 1 4.80,53.67 Z" fill="none" stroke="#fff" stroke-width="9.6" stroke-linecap="butt" stroke-linejoin="round"/></g></g><g transform="translate(513.70,24.80)"><g transform="scale(1,0.885)"><path d="M24.50,21.43 L24.50,14.65 A9.85,9.85 0 0 0 4.80,14.65 L4.80,53.37 A9.85,9.85 0 0 0 24.50,53.37 L24.50,29.93" fill="none" stroke="#fff" stroke-width="9.6" stroke-linecap="butt" stroke-linejoin="round"/></g><rect x="15.53" y="25.89" width="13.77" height="8.50"/></g><g transform="translate(548.50,24.80)"><rect x="0.00" y="0.00" width="9.60" height="60.20"/><path d="M4.70,4.35 L15.70,4.35 A8.5,8.5 0 0 1 24.20,12.85 L24.20,23.87 A8.5,8.5 0 0 1 15.70,32.37 L4.70,32.37" fill="none" stroke="#fff" stroke-width="9.2" stroke-linecap="butt" stroke-linejoin="round"/><rect x="8.60" y="27.09" width="13.40" height="9.63"/><path d="M17.30,30.10 L27.70,30.10 L29.50,60.20 L20.30,60.20 Z"/></g><g transform="translate(581.00,24.80)"><path fill-rule="evenodd" d="M0,60.2 L10.90,0 L21.10,0 L32.00,60.2 L22.40,60.2 L20.57,46.66 L11.43,46.66 L9.60,60.2 Z M12.41,39.43 L19.59,39.43 L16.00,12.94 Z"/></g><g transform="translate(617.60,24.80)"><rect x="0.00" y="0.00" width="9.60" height="60.20"/><path d="M4.70,4.35 L13.40,4.35 A8.5,8.5 0 0 1 21.90,12.85 L21.90,23.27 A8.5,8.5 0 0 1 13.40,31.77 L4.70,31.77" fill="none" stroke="#fff" stroke-width="9.2" stroke-linecap="butt" stroke-linejoin="round"/></g><g transform="translate(650.60,24.80)"><rect x="0.00" y="0.00" width="9.60" height="60.20"/><rect x="20.60" y="0.00" width="9.60" height="60.20"/><rect x="0.00" y="26.19" width="30.20" height="8.40"/></g><g transform="translate(687.20,24.80)"><rect x="0.00" y="0.00" width="10.00" height="60.20"/></g><g transform="translate(703.60,24.80)"><g transform="scale(1,0.885)"><path d="M22.60,25.51 L22.60,13.70 A8.90,8.90 0 0 0 4.80,13.70 L4.80,54.32 A8.90,8.90 0 0 0 22.60,54.32 L22.60,41.83" fill="none" stroke="#fff" stroke-width="9.6" stroke-linecap="butt" stroke-linejoin="round"/></g></g><g transform="translate(734.70,24.80)"><g transform="scale(1,0.885)"><path d="M24.00,23.47 L24.00,14.40 A9.60,9.60 0 0 0 4.80,14.40 L4.80,20.41 C4.80,31.97 24.00,34.01 24.00,46.94 L24.00,53.62 A9.60,9.60 0 0 1 4.80,53.62 L4.80,43.53" fill="none" stroke="#fff" stroke-width="9.6" stroke-linecap="butt" stroke-linejoin="round"/></g></g></g></svg>
<div class="t" style="left:94.60px;top:92.25px;font-size:28.63px;letter-spacing:2.69px;transform:scaleX(0.9571);-webkit-text-stroke:0.5px #fff">LAUREL</div>
<div class="t" style="left:366.95px;top:91.71px;font-size:35.17px;letter-spacing:6.74px;word-spacing:3.08px;transform:scaleX(0.9295);-webkit-text-stroke:0.6px #fff">LAUREL, MD 20707</div>
<svg class="logo" style="left:45.0px;top:87.6px" width="42" height="42" viewBox="-21 -21 42 42">
<defs><clipPath id="lc"><circle r="18.5"/></clipPath></defs>
<circle r="20.7" fill="#fffdf8"/>
<circle r="18.5" fill="#8f9395"/>
<g clip-path="url(#lc)">
<path d="M-0.6,-10 L-13.5,15 L-0.6,22Z" fill="#e8560a"/>
<path d="M0.6,-10 L0.6,22 L13.5,15Z" fill="#0a0a0a"/>
<path d="M-9.8,-20 L-9.8,4" stroke="#fff" stroke-width="2.3" fill="none"/>
<path d="M8.7,-20 L8.7,4" stroke="#fff" stroke-width="2.3" fill="none"/>
<path d="M-0.5,-22 L-0.5,22" stroke="#fff" stroke-width="2.3" fill="none"/>
<path d="M-0.5,-15.5 L-15,15" stroke="#fff" stroke-width="2.9" fill="none"/>
<path d="M-0.5,-15.5 L14,15" stroke="#fff" stroke-width="2.9" fill="none"/>
</g>
</svg>
<svg class="logo" style="left:753.7px;top:200.4px" width="11" height="22"><path d="M0,0 L10.5,0 L10.5,21.5 L4.2,21.5 L4.2,5 L0,5Z" fill="#fff"/></svg>
<div class="t " style="left:774.56px;top:195.95px;font-size:31.10px;transform:scaleX(1.0281);-webkit-text-stroke:0.9px #fff;">MILE</div>
<div class="t " style="left:914.58px;top:195.95px;font-size:31.10px;transform:scaleX(1.0091);-webkit-text-stroke:0.9px #fff;">3</div>
<div class="t " style="left:940.50px;top:195.95px;font-size:31.10px;transform:scaleX(1.0093);-webkit-text-stroke:0.9px #fff;">MILES</div>
<div class="t " style="left:1098.99px;top:195.95px;font-size:31.10px;transform:scaleX(1.0479);-webkit-text-stroke:0.9px #fff;">5</div>
<div class="t " style="left:1125.19px;top:195.95px;font-size:31.10px;transform:scaleX(1.0115);-webkit-text-stroke:0.9px #fff;">MILES</div>
<div class="t " style="left:567.68px;top:270.70px;font-size:17.00px;transform:scaleX(1.0400);-webkit-text-stroke:0.5px #fff;">2021 TOTAL</div>
<div class="t " style="left:567.06px;top:286.90px;font-size:17.00px;transform:scaleX(1.0855);-webkit-text-stroke:0.5px #fff;">POPULATION</div>
<div class="t " style="left:568.76px;top:334.90px;font-size:17.00px;transform:scaleX(1.0808);-webkit-text-stroke:0.5px #fff;">2026 TOTAL</div>
<div class="t " style="left:568.16px;top:351.40px;font-size:17.00px;transform:scaleX(1.0846);-webkit-text-stroke:0.5px #fff;">POPULATION</div>
<div class="t " style="left:567.25px;top:399.80px;font-size:17.00px;transform:scaleX(1.0677);-webkit-text-stroke:0.5px #fff;">AVERAGE</div>
<div class="t " style="left:567.25px;top:416.70px;font-size:17.00px;transform:scaleX(1.0657);-webkit-text-stroke:0.5px #fff;">AGE</div>
<div class="t " style="left:567.68px;top:461.70px;font-size:17.00px;transform:scaleX(1.0400);-webkit-text-stroke:0.5px #fff;">2021 TOTAL</div>
<div class="t " style="left:567.07px;top:478.20px;font-size:17.00px;transform:scaleX(1.0808);-webkit-text-stroke:0.5px #fff;">HOUSEHOLDS</div>
<div class="t " style="left:567.03px;top:527.00px;font-size:17.00px;transform:scaleX(1.1108);-webkit-text-stroke:0.5px #fff;">HH GROWTH</div>
<div class="t " style="left:567.61px;top:543.50px;font-size:17.00px;transform:scaleX(1.1575);-webkit-text-stroke:0.5px #fff;">2021-2026</div>
<div class="t " style="left:567.00px;top:588.80px;font-size:17.00px;transform:scaleX(1.1455);-webkit-text-stroke:0.5px #fff;">MEDIAN</div>
<div class="t " style="left:567.06px;top:605.20px;font-size:17.00px;transform:scaleX(1.0903);-webkit-text-stroke:0.5px #fff;">HOUSEHOLD</div>
<div class="t " style="left:567.25px;top:651.70px;font-size:17.00px;transform:scaleX(1.0677);-webkit-text-stroke:0.5px #fff;">AVERAGE</div>
<div class="t " style="left:567.08px;top:668.20px;font-size:17.00px;transform:scaleX(1.0732);-webkit-text-stroke:0.5px #fff;">HOUSEHOLD SZ</div>
<div class="t " style="left:567.66px;top:715.50px;font-size:17.00px;transform:scaleX(1.0729);-webkit-text-stroke:0.5px #fff;">2021 AVG</div>
<div class="t " style="left:567.06px;top:731.60px;font-size:17.00px;transform:scaleX(1.0863);-webkit-text-stroke:0.5px #fff;">HH VEHICLES</div>
<div class="t " style="left:567.00px;top:780.80px;font-size:17.00px;transform:scaleX(1.1455);-webkit-text-stroke:0.5px #fff;">MEDIAN</div>
<div class="t " style="left:567.06px;top:796.70px;font-size:17.00px;transform:scaleX(1.0902);-webkit-text-stroke:0.5px #fff;">HOME VALUE</div>
<div class="t " style="left:566.78px;top:842.20px;font-size:17.00px;transform:scaleX(1.1548);-webkit-text-stroke:0.5px #fff;">MEDIAN</div>
<div class="t " style="left:572.60px;top:858.90px;font-size:17.00px;transform:scaleX(1.0529);-webkit-text-stroke:0.5px #fff;">YEAR BUILT</div>
<div class="t " style="left:566.86px;top:905.80px;font-size:17.00px;transform:scaleX(1.0927);-webkit-text-stroke:0.5px #fff;">POP GROWTH</div>
<div class="t " style="left:567.41px;top:922.10px;font-size:17.00px;transform:scaleX(1.1625);-webkit-text-stroke:0.5px #fff;">2021-2026</div>
<div class="t " style="left:777.00px;top:287.75px;font-size:16.00px;transform:scaleX(1.0662);-webkit-text-stroke:0.4px #fff;">21,491</div>
<div class="t " style="left:937.25px;top:287.75px;font-size:16.00px;transform:scaleX(1.0745);-webkit-text-stroke:0.4px #fff;">81,178</div>
<div class="t " style="left:1123.42px;top:287.75px;font-size:16.00px;transform:scaleX(1.1742);-webkit-text-stroke:0.4px #fff;">168,947</div>
<div class="t " style="left:777.01px;top:345.65px;font-size:16.00px;transform:scaleX(1.0516);-webkit-text-stroke:0.4px #fff;">21,781</div>
<div class="t " style="left:937.17px;top:345.65px;font-size:16.00px;transform:scaleX(1.2352);-webkit-text-stroke:0.4px #fff;">82,298</div>
<div class="t " style="left:1123.47px;top:345.65px;font-size:16.00px;transform:scaleX(1.1220);-webkit-text-stroke:0.4px #fff;">171,708</div>
<div class="t " style="left:790.54px;top:410.95px;font-size:16.00px;transform:scaleX(1.2581);-webkit-text-stroke:0.4px #fff;">36</div>
<div class="t " style="left:961.55px;top:410.95px;font-size:16.00px;transform:scaleX(1.2259);-webkit-text-stroke:0.4px #fff;">37</div>
<div class="t " style="left:1150.55px;top:410.95px;font-size:16.00px;transform:scaleX(1.2199);-webkit-text-stroke:0.4px #fff;">37</div>
<div class="t " style="left:770.38px;top:471.55px;font-size:16.00px;transform:scaleX(1.2190);-webkit-text-stroke:0.4px #fff;">8,762</div>
<div class="t " style="left:942.54px;top:471.55px;font-size:16.00px;transform:scaleX(1.2398);-webkit-text-stroke:0.4px #fff;">30,876</div>
<div class="t " style="left:1124.26px;top:471.55px;font-size:16.00px;transform:scaleX(1.2519);-webkit-text-stroke:0.4px #fff;">62,073</div>
<div class="t " style="left:771.10px;top:533.35px;font-size:16.00px;transform:scaleX(1.0402);-webkit-text-stroke:0.4px #fff;">+ 1.13%</div>
<div class="t " style="left:948.89px;top:533.35px;font-size:16.00px;transform:scaleX(1.0626);-webkit-text-stroke:0.4px #fff;">+ 1.18%</div>
<div class="t " style="left:1132.16px;top:533.35px;font-size:16.00px;transform:scaleX(1.0988);-webkit-text-stroke:0.4px #fff;">+ 1.46%</div>
<div class="t " style="left:771.57px;top:598.45px;font-size:16.00px;transform:scaleX(1.0965);-webkit-text-stroke:0.4px #fff;">$81,214</div>
<div class="t " style="left:951.34px;top:598.45px;font-size:16.00px;transform:scaleX(1.2379);-webkit-text-stroke:0.4px #fff;">$85,389</div>
<div class="t " style="left:1131.54px;top:598.45px;font-size:16.00px;transform:scaleX(1.2288);-webkit-text-stroke:0.4px #fff;">$94,336</div>
<div class="t " style="left:766.99px;top:660.35px;font-size:16.00px;transform:scaleX(1.2599);-webkit-text-stroke:0.4px #fff;">2.40</div>
<div class="t " style="left:965.30px;top:660.35px;font-size:16.00px;transform:scaleX(1.2532);-webkit-text-stroke:0.4px #fff;">2.60</div>
<div class="t " style="left:1147.99px;top:660.35px;font-size:16.00px;transform:scaleX(1.2599);-webkit-text-stroke:0.4px #fff;">2.70</div>
<div class="t " style="left:766.97px;top:721.95px;font-size:16.00px;transform:scaleX(1.3067);-webkit-text-stroke:0.4px #fff;">2.00</div>
<div class="t " style="left:964.67px;top:721.95px;font-size:16.00px;transform:scaleX(1.2967);-webkit-text-stroke:0.4px #fff;">2.00</div>
<div class="t " style="left:1154.17px;top:721.95px;font-size:16.00px;transform:scaleX(1.3067);-webkit-text-stroke:0.4px #fff;">2.00</div>
<div class="t " style="left:775.24px;top:786.85px;font-size:16.00px;transform:scaleX(1.2458);-webkit-text-stroke:0.4px #fff;">$336,907</div>
<div class="t " style="left:956.96px;top:786.85px;font-size:16.00px;transform:scaleX(1.1440);-webkit-text-stroke:0.4px #fff;">$347,317</div>
<div class="t " style="left:1125.34px;top:786.85px;font-size:16.00px;transform:scaleX(1.2558);-webkit-text-stroke:0.4px #fff;">$368,069</div>
<div class="t " style="left:784.60px;top:853.35px;font-size:16.00px;transform:scaleX(1.1902);-webkit-text-stroke:0.4px #fff;">1982</div>
<div class="t " style="left:966.59px;top:853.35px;font-size:16.00px;transform:scaleX(1.1967);-webkit-text-stroke:0.4px #fff;">1980</div>
<div class="t " style="left:1158.95px;top:853.35px;font-size:16.00px;transform:scaleX(1.1361);-webkit-text-stroke:0.4px #fff;">1984</div>
<div class="t " style="left:771.16px;top:913.45px;font-size:16.00px;transform:scaleX(1.1074);-webkit-text-stroke:0.4px #fff;">+ 1.35%</div>
<div class="t " style="left:955.16px;top:913.45px;font-size:16.00px;transform:scaleX(1.1022);-webkit-text-stroke:0.4px #fff;">+ 1.38%</div>
<div class="t " style="left:1134.46px;top:913.45px;font-size:16.00px;transform:scaleX(1.1039);-webkit-text-stroke:0.4px #fff;">+ 1.63%</div>
<div class="wm"></div>
<div class="t wmt" style="left:10.6px;top:923.85px;font-size:36px;font-family:'Liberation Serif',serif;font-weight:700;transform:scaleX(0.98);color:#e2e2e2">brigh<span style="position:relative">t<span style="position:absolute;left:0.02em;top:0.17em;width:0.34em;height:0.2em;background:#5a5b5a"></span></span></div>
<div class="t wmt" style="left:111.1px;top:938.75px;font-size:18px;font-weight:400;color:#d6d6d6;transform:scaleX(1.02)">MLS</div>
<div class="t wmt" style="left:106.5px;top:928.5px;font-size:4px;font-weight:700;color:#d6d6d6">TM</div>
<svg class="logo" style="left:90.4px;top:930.4px" width="14" height="14" viewBox="-7 -7 14 14"><path d="M0,-5.2 L1.5,-1.4 L6.4,0 L1.5,1.4 L0,5.2 L-1.5,1.4 L-6.4,0 L-1.5,-1.4Z" fill="#e2573a"/></svg>

</body></html>
